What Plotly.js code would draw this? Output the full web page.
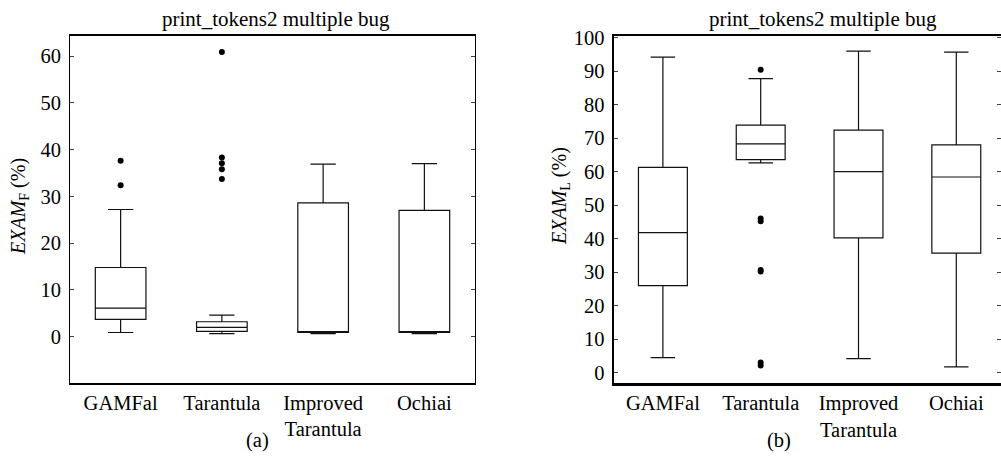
<!DOCTYPE html>
<html>
<head>
<meta charset="utf-8">
<script src="https://cdn.plot.ly/plotly-3.0.1.min.js"></script>
<style>
html,body{margin:0;padding:0;background:#fff;overflow:hidden}
#chart{width:1001px;height:463px}
</style>
</head>
<body>
<div id="chart"></div>
<script>
const categories = ["GAMFal", "Tarantula", "Improved<br>Tarantula", "Ochiai"];

// (a) EXAM_F
const fLower  = [0.9, 0.65, 0.65, 0.65];
const fQ1     = [3.7, 1.15, 0.9, 0.9];
const fMedian = [6.1, 2.0, 1.05, 1.05];
const fQ3     = [14.8, 3.2, 28.6, 27.0];
const fUpper  = [27.2, 4.6, 36.9, 37.0];
const fOutGAMFal    = [37.6, 32.4];
const fOutTarantula = [60.9, 38.3, 37.1, 35.8, 33.7];

// (b) EXAM_L
const lLower  = [4.5, 62.6, 4.2, 1.7];
const lQ1     = [26.0, 63.6, 40.2, 35.7];
const lMedian = [41.8, 68.3, 60.0, 58.4];
const lQ3     = [61.3, 73.9, 72.4, 68.0];
const lUpper  = [94.2, 87.8, 96.0, 95.7];
const lOutTarantula = [90.4, 46.0, 45.2, 30.6, 30.2, 3.0, 2.1];

const titleText = "print_tokens2 multiple bug";
function F(size) { return {family: "Liberation Serif", size: size, color: "#000"}; }

function boxTrace(q1, med, q3, lo, hi, xa, ya) {
  return {type: "box", x: categories, q1: q1, median: med, q3: q3, lowerfence: lo, upperfence: hi,
    width: 0.5, whiskerwidth: 0.5, fillcolor: "rgba(0,0,0,0)",
    line: {color: "#111", width: 1.2}, boxpoints: false, showlegend: false, hoverinfo: "skip", xaxis: xa, yaxis: ya};
}
function outTrace(cat, vals, xa, ya) {
  return {type: "scatter", mode: "markers", x: vals.map(() => cat), y: vals,
    marker: {color: "#000", size: 6}, showlegend: false, hoverinfo: "skip", xaxis: xa, yaxis: ya};
}

const traces = [
  boxTrace(fQ1, fMedian, fQ3, fLower, fUpper, "x", "y"),
  outTrace(categories[0], fOutGAMFal, "x", "y"),
  outTrace(categories[1], fOutTarantula, "x", "y"),
  boxTrace(lQ1, lMedian, lQ3, lLower, lUpper, "x2", "y2"),
  outTrace(categories[1], lOutTarantula, "x2", "y2")
];

const W = 1001, H = 463;
const yDom = [(H - 383) / H, (H - 36) / H];

function xAxis(extra) {
  return Object.assign({type: "category", showgrid: false, zeroline: false, ticks: "", showline: true,
    linecolor: "#000", tickfont: F(20.5), fixedrange: true, mirror: true}, extra);
}
function yAxis(extra) {
  return Object.assign({showgrid: false, zeroline: false, ticks: "inside", ticklen: 4, tickwidth: 1, tickcolor: "#444",
    showline: true, linecolor: "#000", tickmode: "linear", tick0: 0, dtick: 10, tickfont: F(20.5),
    fixedrange: true, mirror: "allticks"}, extra);
}
function ann(text, px, py, size, extra) {
  return Object.assign({text: text, xref: "paper", yref: "paper", x: px / W, y: 1 - py / H,
    xanchor: "center", yanchor: "middle", showarrow: false, font: F(size)}, extra || {});
}

const layout = {
  width: W, height: H,
  margin: {l: 0, r: 0, t: 0, b: 0},
  paper_bgcolor: "#fff", plot_bgcolor: "#fff",
  font: F(20),
  showlegend: false,
  xaxis: xAxis({domain: [70 / W, 475 / W], range: [-0.5, 3.5], anchor: "y", linewidth: 2}),
  yaxis: yAxis({domain: yDom, range: [-9.9, 64.3], anchor: "x", linewidth: 1, ticklabelstandoff: 4}),
  xaxis2: xAxis({domain: [614 / W, 1], range: [-0.5, 3.457], anchor: "y2", linewidth: 2.5}),
  yaxis2: yAxis({domain: yDom, range: [-3.1, 100.5], anchor: "x2", linewidth: 2.5, ticklabelstandoff: 3}),
  annotations: [
    ann(titleText, 276, 19, 21),
    ann(titleText, 823, 19, 21),
    ann("<i>EXAM</i><sub>F</sub> (%)", 19, 207, 20, {textangle: -90}),
    ann("<i>EXAM</i><sub>L</sub> (%)", 560, 196, 20, {textangle: -90}),
    ann("(a)", 257, 440, 20.5),
    ann("(b)", 779, 440, 20.5)
  ]
};

Plotly.newPlot("chart", traces, layout, {staticPlot: true, displayModeBar: false});
</script>
</body>
</html>
